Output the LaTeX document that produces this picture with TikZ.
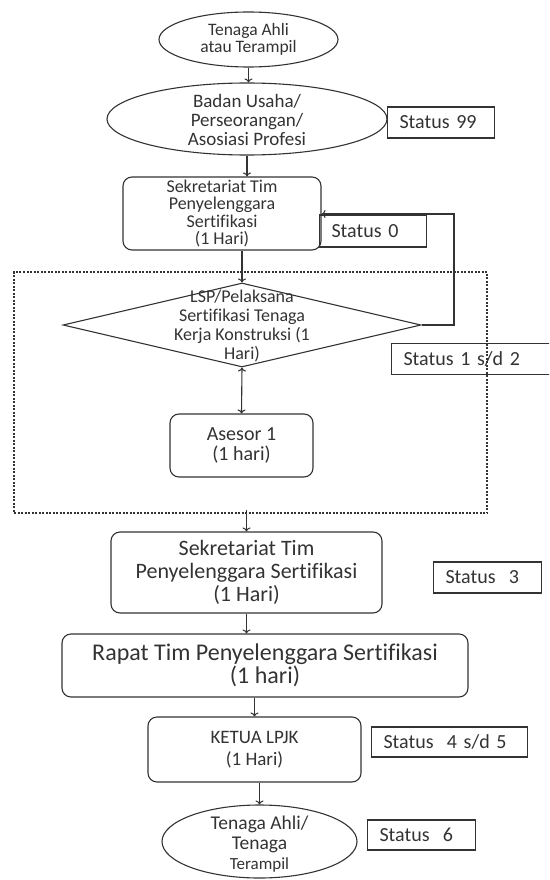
\documentclass[tikz,border=0pt]{standalone}
\usepackage{fontspec}
\setmainfont{Carlito}[Ligatures=CommonOff]
\usetikzlibrary{shapes.geometric, arrows.meta}

\begin{document}
\begin{tikzpicture}[x=1pt, y=-1pt, >={To[length=4pt,width=8pt]}, line width=1.1pt, color=black!80,
	box/.style={draw, rounded corners=9pt, align=center, inner sep=1pt},
	oval/.style={draw, ellipse, inner sep=0pt},
	txt/.style={align=center, inner sep=0pt},
	stat/.style={draw, anchor=west, align=left, text width=#1, inner xsep=12pt, inner ysep=0pt, minimum height=31pt, font=\fontsize{20}{22}\selectfont},
	grp/.style={draw, dash pattern=on 2pt off 1.5pt, inner sep=0pt}]
	\useasboundingbox (0,0) rectangle (549,880);
	\clip (0,0) rectangle (549,880);
	
	% Top ellipses
	\node[oval, minimum width=179pt, minimum height=55pt, align=center, font=\fontsize{17.5}{16.7}\selectfont] (start) at (248.5,39.5) {Tenaga Ahli\\atau Terampil};
	\node[oval, minimum width=280pt, minimum height=72pt] (badan) at (247,119) {};
	\node[txt, font=\fontsize{19}{19}\selectfont] (badantext) at (247,120) {Badan Usaha/\\Perseorangan/\\Asosiasi Profesi};
	\node[stat=83pt] (s99) at (387,122.5) {Status 99};
	
	% First secretariat
	\node[box, minimum width=198pt, minimum height=73pt, font=\fontsize{18}{17.5}\selectfont] (sekA) at (222,213.5) {Sekretariat Tim\\Penyelenggara\\Sertifikasi\\(1 Hari)};
	\node[stat=83pt, minimum height=32pt] (s0) at (319,231) {Status 0};
	
	% Dotted group with LSP and assessor
	\node[grp, minimum width=473pt, minimum height=241pt] (lspgroup) at (250.5,392.5) {};
	\node[draw, diamond, minimum width=358pt, minimum height=84pt, inner sep=0pt] (lsp) at (242,325) {};
	\node[txt, font=\fontsize{18}{18.7}\selectfont] (lsptext) at (242,326) {LSP/Pelaksana\\Sertifikasi Tenaga\\Kerja Konstruksi (1\\Hari)};
	\node[stat=140pt] (s12) at (391,359) {Status 1 s/d 2};
	\node[box, minimum width=143pt, minimum height=63pt, font=\fontsize{20}{20.7}\selectfont] (asesor) at (241.5,445.5) {Asesor 1\\(1 hari)};
	
	% Lower steps
	\node[box, minimum width=271pt, minimum height=81pt, font=\fontsize{22}{23}\selectfont] (sekB) at (246.5,572.5) {Sekretariat Tim\\Penyelenggara Sertifikasi\\(1 Hari)};
	\node[stat=84pt] (s3) at (433,577.5) {Status~~3};
	\node[box, minimum width=406pt, minimum height=63pt, font=\fontsize{24}{23}\selectfont] (rapat) at (265,665.5) {Rapat Tim Penyelenggara Sertifikasi\\(1 hari)};
	\node[box, minimum width=213pt, minimum height=65pt, font=\fontsize{19}{22}\selectfont] (ketua) at (254.5,749.5) {KETUA LPJK\\(1 Hari)};
	\node[stat=132pt, minimum height=30pt] (s45) at (371,742) {Status~~4 s/d 5};
	\node[oval, minimum width=195pt, minimum height=73pt] (finish) at (259.5,841.5) {};
	\node[txt, font=\fontsize{19.5}{20}\selectfont] (finishtext) at (259.5,844) {Tenaga Ahli/\\Tenaga\\{\fontsize{17}{20}\selectfont Terampil}};
	\node[stat=84pt, minimum height=30pt] (s6) at (367,835) {Status~~6};
	
	% Arrows
	\draw[->] (start.south) -- (start.south |- badan.north);
	\draw[->] (badan.south) -- (badan.south |- sekA.north);
	\draw[->] (sekA.south -| lsp.north) -- (lsp.north);
	\draw[<->] (lsp.south) -- (asesor.north);
	\coordinate (back) at (454,214);
	\draw[->] (lsp.east) -| (back) -- (back -| sekA.east); % return to secretariat
	\draw[->] ([yshift=4pt]lspgroup.south -| sekB.north) -- (sekB.north);
	\draw[->] (sekB.south) -- (sekB.south |- rapat.north);
	\draw[->] (rapat.south -| ketua.north) -- (ketua.north);
	\draw[->] (ketua.south -| finish.north) -- (finish.north);
\end{tikzpicture}
\end{document}
